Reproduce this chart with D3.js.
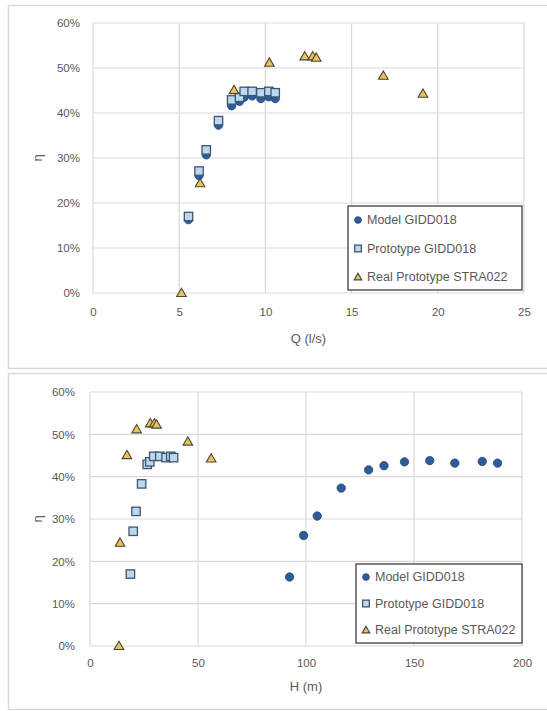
<!DOCTYPE html>
<html>
<head>
<meta charset="utf-8">
<script src="https://cdn.jsdelivr.net/npm/d3@7/dist/d3.min.js"></script>
<style>
  html, body { margin: 0; padding: 0; background: #fff; }
  svg text { font-family: "Liberation Sans", Arial, sans-serif; }
</style>
</head>
<body>
<svg id="chart" width="547" height="711"></svg>
<script>
// Efficiency (η, %) against flow rate Q (l/s) and head H (m)
const modelQ   = [5.54, 6.15, 6.57, 7.28, 8.04, 8.50, 8.77, 9.23, 9.74, 10.20, 10.57];
const modelH   = [92.4, 98.9, 105.2, 116.3, 129.0, 136.1, 145.6, 157.3, 168.9, 181.6, 188.7];
const modelEta = [16.3, 26.1, 30.7, 37.3, 41.6, 42.6, 43.5, 43.8, 43.2, 43.6, 43.2];

const protoQ   = [5.54, 6.15, 6.57, 7.28, 8.04, 8.50, 8.77, 9.23, 9.74, 10.20, 10.57];
const protoH   = [18.7, 20.0, 21.3, 23.9, 26.5, 27.7, 29.5, 32.3, 35.2, 37.4, 38.7];
const protoEta = [17.0, 27.1, 31.8, 38.3, 42.9, 43.5, 44.8, 44.8, 44.5, 44.8, 44.5];

const realQ    = [5.13, 6.21, 8.18, 10.23, 12.28, 12.74, 12.95, 16.84, 19.14];
const realH    = [13.4, 13.9, 17.1, 21.6, 27.9, 29.8, 30.8, 45.3, 56.1];
const realEta  = [0.0, 24.4, 45.1, 51.2, 52.6, 52.6, 52.3, 48.3, 44.3];

const seriesNames = ["Model GIDD018", "Prototype GIDD018", "Real Prototype STRA022"];
const etaTicks = [0, 10, 20, 30, 40, 50, 60];
const qTicks = [0, 5, 10, 15, 20, 25];
const hTicks = [0, 50, 100, 150, 200];

const svg = d3.select("#chart");
const grid = "#d9d9d9";
const textCol = "#595959";

// k: 0 = circle, 1 = square, 2 = triangle; sc scales the marker
function drawMarker(g, kind, x, y, sc = 1) {
  if (kind === 0) {
    g.append("circle").attr("cx", x).attr("cy", y).attr("r", 4.2 * sc)
      .attr("fill", "#2e5c99").attr("stroke", "#23487a").attr("stroke-width", 0.8);
  } else if (kind === 1) {
    const h = 4.2 * sc;
    g.append("rect").attr("x", x - h).attr("y", y - h).attr("width", 2 * h).attr("height", 2 * h)
      .attr("fill", "#bdd7ee").attr("stroke", "#3e5570").attr("stroke-width", 1.3);
  } else {
    const s = d3.symbol().type(d3.symbolTriangle).size(40 * sc * sc);
    g.append("path").attr("d", s()).attr("transform", `translate(${x},${y + 0.8 * sc})`)
      .attr("fill", "#e8c35a").attr("stroke", "#4a4536").attr("stroke-width", 1.1);
  }
}

function panel(opt) {
  const g = svg.append("g");
  // chart frame
  g.append("rect").attr("x", opt.frame[0] + 0.5).attr("y", opt.frame[1] + 0.5)
    .attr("width", opt.frame[2]).attr("height", opt.frame[3])
    .attr("fill", "#fff").attr("stroke", grid).attr("stroke-width", 1.5);

  const x = d3.scaleLinear().domain(opt.xDomain).range([opt.left, opt.right]);
  const y = d3.scaleLinear().domain([0, 60]).range([opt.bottom, opt.top]);

  // gridlines
  g.append("g").selectAll("line").data(opt.xTicks).join("line")
    .attr("x1", d => x(d)).attr("x2", d => x(d))
    .attr("y1", opt.top).attr("y2", opt.bottom)
    .attr("stroke", grid).attr("stroke-width", 1.2);
  g.append("g").selectAll("line").data(etaTicks).join("line")
    .attr("x1", opt.left).attr("x2", opt.right)
    .attr("y1", d => y(d)).attr("y2", d => y(d))
    .attr("stroke", grid).attr("stroke-width", 1.2);

  // axes (tick labels only)
  const ax = g.append("g").attr("transform", `translate(0,${opt.bottom})`)
    .call(d3.axisBottom(x).tickValues(opt.xTicks).tickSize(0).tickPadding(opt.xPad));
  ax.select(".domain").remove();
  ax.selectAll("text").attr("fill", textCol).attr("font-size", 11.5)
    .attr("font-family", "Liberation Sans, Arial, sans-serif");

  const ay = g.append("g").attr("transform", `translate(${opt.left},0)`)
    .call(d3.axisLeft(y).tickValues(etaTicks).tickFormat(d => d + "%").tickSize(0).tickPadding(opt.yPad));
  ay.select(".domain").remove();
  ay.selectAll("text").attr("fill", textCol).attr("font-size", 11.5)
    .attr("font-family", "Liberation Sans, Arial, sans-serif");

  // axis titles
  g.append("text").attr("x", (opt.left + opt.right) / 2).attr("y", opt.xTitleY)
    .attr("text-anchor", "middle").attr("fill", textCol).attr("font-size", 13)
    .text(opt.xTitle);
  g.append("text").attr("transform", `translate(${opt.yTitleX},${(opt.top + opt.bottom) / 2}) rotate(-90)`)
    .attr("text-anchor", "middle").attr("fill", textCol).attr("font-size", 13)
    .text("η");

  // points: model, prototype, real prototype (drawn in series order)
  const pts = g.append("g");
  opt.series.forEach((s, k) => {
    s.xs.forEach((v, i) => drawMarker(pts, k, x(v), y(s.ys[i])));
  });

  // legend
  const L = opt.legend;
  const lg = g.append("g");
  lg.append("rect").attr("x", L.x).attr("y", L.y).attr("width", L.w).attr("height", L.h)
    .attr("fill", "#fff").attr("stroke", "#404040").attr("stroke-width", 1.3);
  seriesNames.forEach((name, k) => {
    const cy = L.y + L.first + k * L.step;
    drawMarker(lg, k, L.x + 10, cy, 0.8);
    lg.append("text").attr("x", L.x + 19).attr("y", cy).attr("dy", "0.35em")
      .attr("fill", textCol).attr("font-size", 12.5).text(name);
  });
}

panel({
  frame: [8, 5, 545, 363],
  xDomain: [0, 25], xTicks: qTicks,
  left: 93, right: 524, top: 23, bottom: 293,
  xPad: 15, yPad: 13, xTitle: "Q (l/s)", xTitleY: 343, yTitleX: 42,
  series: [
    { xs: modelQ, ys: modelEta },
    { xs: protoQ, ys: protoEta },
    { xs: realQ, ys: realEta }
  ],
  legend: { x: 348, y: 206, w: 174, h: 84, first: 14, step: 28.5 }
});

panel({
  frame: [8, 373, 545, 336],
  xDomain: [0, 200], xTicks: hTicks,
  left: 90, right: 522, top: 392, bottom: 646,
  xPad: 13, yPad: 15, xTitle: "H (m)", xTitleY: 691, yTitleX: 42,
  series: [
    { xs: modelH, ys: modelEta },
    { xs: protoH, ys: protoEta },
    { xs: realH, ys: realEta }
  ],
  legend: { x: 356, y: 564, w: 166, h: 79, first: 13, step: 26.5 }
});
</script>
</body>
</html>
